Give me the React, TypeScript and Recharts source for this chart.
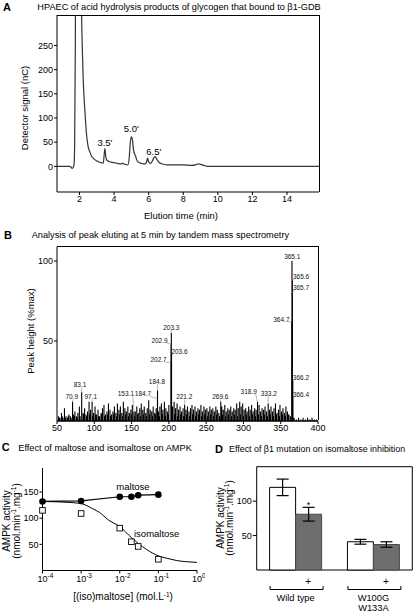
import React from "react";
import {
  ComposedChart, BarChart, Line, Bar, Scatter, XAxis, YAxis,
  ReferenceArea, ReferenceDot, ErrorBar, LabelList,
} from "recharts";

const FONT = '"Liberation Sans", Arial, Helvetica, sans-serif';
const tickStyle = { fontSize: 9, fill: "#000", fontFamily: FONT };

// ---- A: HPAEC trace
const elutionTime = [0.7, 1.4, 1.5, 1.56, 1.62, 1.68, 1.72, 1.76, 1.8, 1.9, 2.0, 2.08, 2.12, 2.16, 2.21, 2.26, 2.31, 2.4, 2.5, 2.6, 2.7, 2.85, 3.0, 3.2, 3.38, 3.43, 3.47, 3.52, 3.6, 3.8, 4.1, 4.4, 4.5, 4.56, 4.65, 4.8, 4.88, 4.94, 5.0, 5.06, 5.12, 5.18, 5.24, 5.3, 5.4, 5.6, 5.82, 5.88, 5.94, 6.0, 6.1, 6.2, 6.3, 6.38, 6.48, 6.6, 6.8, 7.1, 7.5, 8.0, 8.5, 8.7, 8.86, 9.0, 9.2, 9.4, 10.0, 12.0, 14.0, 15.85];
const detectorSignal = [0, 0, -1, -4, -3, 2, 40, 250, 700, 1100, 900, 500, 320, 250, 186, 145, 117, 69, 41, 30, 21, 15, 11, 8, 7, 25, 37, 20, 12, 9, 7, 5, 7, 5, 4, 3, 20, 50, 61, 56, 35, 26, 22, 14, 9, 6, 5, 10, 17, 9, 6, 10, 18, 20, 14, 8, 5, 3, 3, 3, 2, 3, 5, 4, 2, 0, 0, 0, 0, 0];
const elutionDomain: [number, number] = [0.7, 15.85];
const signalDomain: [number, number] = [-53, 313];
const elutionTicks = [2, 4, 6, 8, 10, 12, 14];
const signalTicks = [0, 50, 100, 150, 200, 250];
const hpaecPeakName = ["3.5'", "5.0'", "6.5'"];
const hpaecPeakTime = [3.47, 5.0, 6.3];
const hpaecPeakTop = [37, 61, 20];
const hpaecLabelLift = [2, 4.5, 1.5];

// ---- B: MS/MS spectrum
const noisePeaks: [number, number][] = [
  [52, 3], [53, 2], [54, 2], [56, 5], [57, 3], [58, 2], [60, 8], [61, 2], [62, 3], [64, 2], [65, 3], [66, 4], [68, 3], [69, 2],
  [72, 4], [73, 3], [74, 6], [76, 3], [77, 2], [78, 5], [80, 9], [81, 3], [85, 5], [86, 4], [87, 8], [89, 4], [90, 3], [91, 6],
  [93, 12], [94, 4], [95, 7], [98, 3], [99, 5], [101, 9], [102, 4], [103, 4], [105, 7], [106, 3], [107, 3], [109, 5], [110, 4],
  [111, 8], [113, 10], [114, 3], [115, 4], [117, 6], [118, 4], [119, 11], [121, 7], [122, 3], [123, 4], [125, 6], [126, 4],
  [127, 9], [129, 5], [130, 3], [131, 11], [133, 7], [134, 4], [135, 9], [137, 5], [138, 3], [139, 12], [141, 8], [142, 4],
  [143, 6], [145, 9], [146, 3], [147, 5], [149, 7], [150, 4], [151, 10], [154, 3], [155, 6], [157, 9], [158, 4], [159, 5],
  [161, 8], [162, 3], [163, 11], [165, 7], [166, 4], [167, 9], [169, 5], [170, 3], [171, 8], [173, 13], [174, 4], [175, 7],
  [177, 6], [178, 3], [179, 9], [181, 5], [182, 4], [183, 8], [186, 6], [187, 3], [188, 9], [190, 11], [191, 4], [192, 7],
  [194, 12], [195, 3], [196, 8], [198, 6], [199, 4], [200, 10], [204, 3], [205, 9], [207, 12], [208, 4], [209, 8], [211, 11],
  [212, 3], [213, 7], [215, 9], [216, 4], [217, 6], [219, 8], [220, 3], [223, 7], [224, 4], [225, 9], [227, 6], [228, 3],
  [229, 8], [231, 10], [232, 4], [233, 7], [235, 9], [236, 3], [237, 6], [239, 8], [240, 4], [241, 7], [243, 10], [244, 3],
  [245, 6], [247, 9], [248, 4], [249, 7], [251, 8], [252, 3], [253, 6], [255, 9], [256, 4], [257, 7], [259, 8], [260, 3],
  [261, 6], [263, 9], [264, 4], [265, 7], [267, 5], [268, 3], [271, 9], [272, 4], [273, 7], [275, 10], [276, 3], [277, 6],
  [279, 8], [280, 4], [281, 7], [283, 9], [284, 3], [285, 6], [287, 8], [288, 4], [289, 7], [291, 11], [292, 3], [293, 8],
  [295, 12], [296, 4], [297, 9], [299, 11], [300, 3], [301, 7], [303, 8], [304, 4], [305, 6], [307, 9], [308, 3], [309, 7],
  [311, 10], [312, 4], [313, 6], [315, 8], [316, 3], [317, 7], [320, 4], [321, 10], [323, 6], [324, 3], [325, 8], [327, 7],
  [328, 4], [329, 9], [331, 6], [332, 3], [335, 7], [336, 4], [337, 9], [339, 6], [340, 3], [341, 8], [343, 11], [344, 4],
  [345, 5], [347, 7], [348, 3], [349, 10], [351, 6], [352, 4], [353, 8], [355, 5], [356, 3], [357, 9], [359, 6], [360, 4],
  [361, 4], [363, 3], [368, 2], [371, 1], [374, 2], [377, 1], [380, 2], [383, 1], [386, 2], [389, 1], [392, 2], [395, 1], [398, 1],
];
const namedMz = [70.9, 83.1, 97.1, 153.1, 184.7, 184.8, 202.7, 202.9, 203.3, 203.6, 221.2, 269.6, 318.9, 333.2, 364.7, 365.1, 365.6, 365.7, 366.2, 366.4];
const namedHeight = [12, 18, 12, 6, 14, 19, 37, 48, 55, 42, 10, 12, 12, 11, 62, 100, 88, 80, 25, 15];
const mzDomain: [number, number] = [50, 400];
const heightDomain: [number, number] = [0, 109];
const mzTicks = [50, 100, 150, 200, 250, 300, 350, 400];
const heightTicks = [50, 100];
// label placement: px offset of label centre from the peak top
const namedLabelOffset: [number, number][] = [
  [-0.8, -4.8], [-1.6, -7.2], [-1.3, -4.8], [-8, -17.4], [-14.5, -4.6], [-0.6, -9], [-12.3, -1.8], [-11.5, -3.9],
  [0, -5.4], [8, -1.8], [-0.4, -8], [-0.4, -4.8], [-8.8, -10.2], [0.6, -9.4], [-10.3, -2.5], [0.3, -4],
  [8.7, -3.2], [8.6, -5.4], [8.2, -3.7], [8.1, -2.7],
];

// ---- C: maltose / isomaltose
const concTicks = [1e-4, 1e-3, 1e-2, 1e-1, 1];
const maltoseConc = [1e-4, 1e-3, 1e-2, 2e-2, 3e-2, 1e-1];
const maltoseAct = [132, 133, 141, 141, 144, 145];
const isoConc = [1e-4, 1e-3, 1e-2, 2e-2, 3e-2, 1e-1];
const isoAct = [115, 109, 81, 55, 46, 21.5];
const fitConc = [1e-4, 3e-4, 1e-3, 2e-3, 3e-3, 5e-3, 1e-2, 2e-2, 3e-2, 5e-2, 1e-1, 2e-1, 3e-1, 5e-1, 1];
const fitAct = [132, 131, 128, 118, 111, 97, 84, 63, 52, 40, 28, 22, 19, 17, 15.5];

// ---- D: beta1 mutation
const groups = ["Wild type", "W100G\nW133A"];
const controlAct = [120, 41];
const controlErr = [12, 3.5];
const isoActD = [81, 37];
const isoErrD = [10, 4];
const isoSig = ["*", ""];

// chart boxes (page px) for panels A and B
const A_BOX = { left: 0, top: 0, width: 415, height: 225, m: { top: 15, right: 96, bottom: 0, left: 0 }, yw: 57, xh: 33 };
const B_BOX = { left: 0, top: 220, width: 415, height: 220, m: { top: 26.7, right: 97, bottom: 0, left: 0 }, yw: 57, xh: 19 };

const hpaecData = elutionTime.map((t, i) => ({ t, v: detectorSignal[i] }));

const allPeaks = [
  ...noisePeaks.map(([mz, h]) => ({ mz, h })),
  ...namedMz.map((mz, i) => ({ mz, h: namedHeight[i] })),
].sort((a, b) => a.mz - b.mz);
const stickData = [
  { mz: 50, v: 0 },
  ...allPeaks.flatMap((p) => [{ mz: p.mz, v: 0 }, { mz: p.mz, v: p.h }, { mz: p.mz, v: 0 }]),
  { mz: 400, v: 0 },
];

const maltoseData = maltoseConc.map((c, i) => ({ c, v: maltoseAct[i] }));
const isoData = isoConc.map((c, i) => ({ c, v: isoAct[i] }));
const fitData = fitConc.map((c, i) => ({ c, v: fitAct[i] }));

const mutData = groups.map((g, i) => ({
  group: g, control: controlAct[i], controlErr: controlErr[i], iso: isoActD[i], isoErr: isoErrD[i],
}));

const peakTag = (label: string, dx: number, dy: number) => (p: any) => {
  const cx = Number(p.cx), cy = Number(p.cy);
  const ex = cx + dx - Math.max(-7, Math.min(7, dx));
  const ey = cy + dy + 2.5;
  const long = Math.hypot(ex - cx, ey - cy) > 1.5;
  return (
    <g>
      {long && <line x1={cx} y1={cy} x2={ex} y2={ey} stroke="#888" strokeWidth={0.6} />}
      <text x={cx + dx} y={cy + dy + 2.3} textAnchor="middle" fontSize={6.5} fontFamily={FONT} fill="#111">{label}</text>
    </g>
  );
};

const PowTick = (p: any) => {
  const e = Math.round(Math.log10(p.payload.value));
  return (
    <text x={p.x - 5} y={p.y + 6} textAnchor="start" fontSize={9} fontFamily={FONT} fill="#000">
      10<tspan dy={-4} fontSize={6.5}>{e}</tspan>
    </text>
  );
};

const Square = (p: any) => (
  <rect x={p.cx - 2.8} y={p.cy - 2.8} width={5.6} height={5.6} fill="#fff" stroke="#000" strokeWidth={0.9} />
);

const GroupTick = (p: any) => {
  const x = Number(p.x), y = Number(p.y);
  const lines = String(p.payload.value).split("\n");
  return (
    <g fontFamily={FONT}>
      <text x={x + 12.5} y={y + 15} textAnchor="middle" fontSize={10} fill="#000">+</text>
      <path d={`M${x - 25.5},${y + 16} V${y + 19.5} H${x + 27.5} V${y + 16}`} fill="none" stroke="#000" strokeWidth={1} />
      {lines.map((l, i) => (
        <text key={i} x={x} y={y + 30.5 + i * 10} textAnchor="middle" fontSize={9.3} fill="#000">{l}</text>
      ))}
    </g>
  );
};

const StarLabel = (p: any) => {
  const i = p.index;
  const s = isoSig[i];
  if (!s) return null;
  const vb = p.viewBox ?? p;
  const x = Number(vb.x), y = Number(vb.y), w = Number(vb.width), h = Number(vb.height);
  const errTop = y - isoErrD[i] * (h / isoActD[i]);
  return <text x={x + w / 2} y={errTop + 1} textAnchor="middle" fontSize={9} fontFamily={FONT} fill="#000">{s}</text>;
};

// top + right edges of a plot frame, from the chart box layout
const FrameEdges = ({ b }: { b: typeof A_BOX }) => {
  const left = b.left + b.m.left + b.yw;
  const top = b.top + b.m.top;
  const right = b.left + b.width - b.m.right;
  const bottom = b.top + b.height - b.m.bottom - b.xh;
  return (
    <div style={{
      position: "absolute", left, top: top - 0.5, width: right - left + 0.5, height: bottom - top,
      borderTop: "1px solid #000", borderRight: "1px solid #000", boxSizing: "border-box", pointerEvents: "none",
    }} />
  );
};

function PanelA() {
  return (
    <ComposedChart width={A_BOX.width} height={A_BOX.height} margin={A_BOX.m}>
      <XAxis dataKey="t" type="number" domain={elutionDomain} ticks={elutionTicks} interval={0}
        tickSize={3} tickMargin={1} tick={tickStyle} stroke="#000" height={A_BOX.xh} />
      <YAxis type="number" domain={signalDomain} ticks={signalTicks} interval={0} allowDataOverflow
        tickSize={3} tickMargin={1} tick={tickStyle} stroke="#000" width={A_BOX.yw} />
      <Line data={hpaecData} dataKey="v" type="monotone" stroke="#333" strokeWidth={1.2} dot={false} isAnimationActive={false} />
      {hpaecPeakName.map((n, i) => (
        <ReferenceDot key={n} x={hpaecPeakTime[i]} y={hpaecPeakTop[i]} r={0} fill="none" stroke="none"
          label={{ value: n, position: "top", offset: hpaecLabelLift[i], fontSize: 9.5, fill: "#000", fontFamily: FONT }} />
      ))}
    </ComposedChart>
  );
}

function PanelB() {
  return (
    <ComposedChart width={B_BOX.width} height={B_BOX.height} margin={B_BOX.m}>
      <XAxis dataKey="mz" type="number" domain={mzDomain} ticks={mzTicks} interval={0}
        tickSize={3} tickMargin={1} tick={tickStyle} stroke="#000" height={B_BOX.xh} />
      <YAxis type="number" domain={heightDomain} ticks={heightTicks} interval={0}
        tickSize={3} tickMargin={1} tick={tickStyle} stroke="#000" width={B_BOX.yw} />
      <Line data={stickData} dataKey="v" type="linear" stroke="#000" strokeWidth={1.1} dot={false} isAnimationActive={false} />
      {namedMz.map((mz, i) => (
        <ReferenceDot key={mz} x={mz} y={namedHeight[i]} r={1} ifOverflow="visible"
          shape={peakTag(mz.toFixed(1), namedLabelOffset[i][0], namedLabelOffset[i][1])} />
      ))}
    </ComposedChart>
  );
}

function PanelC() {
  return (
    <ComposedChart width={205} height={171} margin={{ top: 28, right: 8, bottom: 0, left: 0 }}>
      <XAxis dataKey="c" type="number" scale="log" domain={[1e-4, 1]} ticks={concTicks} interval={0} height={40.5}
        tickSize={3} tick={(p: any) => <PowTick {...p} />} stroke="#000" />
      <YAxis type="number" domain={[0, 196]} ticks={[50, 100, 150]} interval={0} width={42.5} tickSize={3} tickMargin={1}
        tick={tickStyle} stroke="#000" />
      <Line data={fitData} dataKey="v" type="monotone" stroke="#000" strokeWidth={1} dot={false} isAnimationActive={false} />
      <Line data={maltoseData} dataKey="v" type="linear" stroke="#000" strokeWidth={1.2}
        dot={{ r: 3.3, fill: "#000", stroke: "#000", strokeWidth: 0 }} isAnimationActive={false} />
      <Scatter data={isoData} dataKey="v" fill="#fff" shape={(p: any) => <Square {...p} />} isAnimationActive={false} />
    </ComposedChart>
  );
}

function PanelD() {
  return (
    <BarChart width={210} height={171} data={mutData} margin={{ top: 26.7, right: 2.7, bottom: 0, left: 0 }}
      barCategoryGap="16.6%" barGap={0}>
      <XAxis dataKey="group" axisLine={false} tickLine={false} tickSize={0} tickMargin={0} height={41} interval={0}
        tick={(p: any) => <GroupTick {...p} />} />
      <YAxis type="number" domain={[0, 150]} ticks={[50, 100]} interval={0} width={51.7} axisLine={false} tickSize={4} tickMargin={1}
        tick={tickStyle} stroke="#000" />
      <Bar dataKey="control" fill="#fff" stroke="#000" strokeWidth={1} isAnimationActive={false}>
        <ErrorBar dataKey="controlErr" width={6} stroke="#000" strokeWidth={1.2} />
      </Bar>
      <Bar dataKey="iso" fill="#6e6e6e" stroke="#4a4a4a" strokeWidth={1} isAnimationActive={false}>
        <ErrorBar dataKey="isoErr" width={6} stroke="#000" strokeWidth={1.2} />
        <LabelList dataKey="iso" content={StarLabel} />
      </Bar>
      <ReferenceArea y1={0} y2={150} fill="none" stroke="#000" strokeWidth={1} ifOverflow="visible" />
    </BarChart>
  );
}

const Sup = ({ children }: { children: React.ReactNode }) => (
  <tspan dy={-3.5} fontSize={6.5}>{children}</tspan>
);

export default function App() {
  const T = { fontFamily: FONT, fill: "#000" };
  return (
    <div style={{ position: "absolute", left: 0, top: 0, width: 415, height: 611, background: "#fff", overflow: "hidden", fontFamily: FONT }}>
      <div style={{ position: "absolute", left: A_BOX.left, top: A_BOX.top }}><PanelA /></div>
      <div style={{ position: "absolute", left: B_BOX.left, top: B_BOX.top }}><PanelB /></div>
      <div style={{ position: "absolute", left: 0, top: 440 }}><PanelC /></div>
      <div style={{ position: "absolute", left: 205, top: 440 }}><PanelD /></div>
      <FrameEdges b={A_BOX} />
      <FrameEdges b={B_BOX} />
      <svg width={415} height={611} style={{ position: "absolute", left: 0, top: 0, pointerEvents: "none" }}>
        <text {...T} x={3} y={10.5} fontSize={11} fontWeight="bold">A</text>
        <text {...T} x={37.3} y={9.5} fontSize={9.2}>HPAEC of acid hydrolysis products of glycogen that bound to β1-GDB</text>
        <text {...T} x={181} y={219.4} fontSize={9.5} textAnchor="middle">Elution time  (min)</text>
        <text {...T} transform="translate(28.3,108) rotate(-90)" fontSize={9.5} textAnchor="middle">Detector signal (nC)</text>

        <text {...T} x={4} y={239} fontSize={11} fontWeight="bold">B</text>
        <text {...T} x={31.7} y={238} fontSize={9.2}>Analysis of peak eluting at 5 min by tandem mass spectrometry</text>
        <text {...T} transform="translate(33.6,331) rotate(-90)" fontSize={9.5} textAnchor="middle">Peak height (%max)</text>

        <text {...T} x={1.7} y={450.7} fontSize={11} fontWeight="bold">C</text>
        <text {...T} x={18.3} y={450.7} fontSize={9.2}>Effect of maltose and isomaltose on AMPK</text>
        <text {...T} transform="translate(10,521) rotate(-90)" fontSize={10} textAnchor="middle">AMPK activity</text>
        <text {...T} transform="translate(19.5,521) rotate(-90)" fontSize={10} textAnchor="middle">
          (nmol.min<Sup>-1</Sup><tspan dy={3.5}>.mg</tspan><Sup>-1</Sup><tspan dy={3.5}>)</tspan>
        </text>
        <text {...T} x={123} y={600.2} fontSize={10} textAnchor="middle">
          [(iso)maltose]  (mol.L<Sup>-1</Sup><tspan dy={3.5}>)</tspan>
        </text>
        <text {...T} x={133} y={490} fontSize={9.5} textAnchor="middle">maltose</text>
        <text {...T} x={156.7} y={537.3} fontSize={9.5} textAnchor="middle">isomaltose</text>

        <text {...T} x={215} y={452.7} fontSize={11} fontWeight="bold">D</text>
        <text {...T} x={229} y={452} fontSize={8.9}>Effect of β1 mutation on isomaltose inhibition</text>
        <text {...T} transform="translate(223.5,518) rotate(-90)" fontSize={10} textAnchor="middle">AMPK activity</text>
        <text {...T} transform="translate(232.5,518) rotate(-90)" fontSize={10} textAnchor="middle">
          (nmol.min<Sup>-1</Sup><tspan dy={3.5}>.mg</tspan><Sup>-1</Sup><tspan dy={3.5}>)</tspan>
        </text>
      </svg>
    </div>
  );
}
